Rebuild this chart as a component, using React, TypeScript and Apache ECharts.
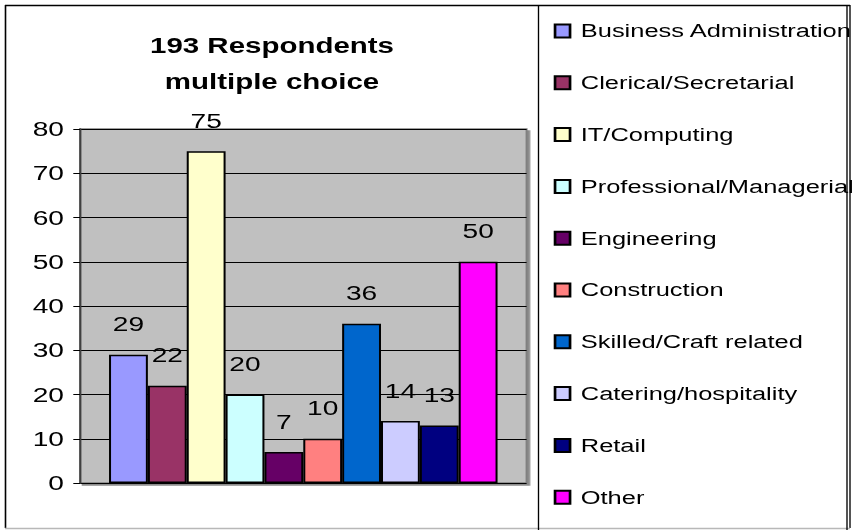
import React, { useEffect, useRef } from "react";
import * as echarts from "echarts";

const seriesNames = [
  "Business Administration",
  "Clerical/Secretarial",
  "IT/Computing",
  "Professional/Managerial",
  "Engineering",
  "Construction",
  "Skilled/Craft related",
  "Catering/hospitality",
  "Retail",
  "Other",
];
const seriesValues = [29, 22, 75, 20, 7, 10, 36, 14, 13, 50];
const seriesColors = [
  "#9999FF",
  "#993366",
  "#FFFFCC",
  "#CCFFFF",
  "#660066",
  "#FF8080",
  "#0066CC",
  "#CCCCFF",
  "#000080",
  "#FF00FF",
];
const categories = [""];
const titleLines = ["193 Respondents", "multiple choice"];
const yMin = 0;
const yMax = 80;
const yInterval = 10;

const K = 1.34; // horizontal stretch of the reference
const W = 853 / K;
const H = 530;
const sx = (x: number) => x / K;

export default function App() {
  const ref = useRef<HTMLDivElement>(null);
  useEffect(() => {
    if (!ref.current) return;
    const chart = echarts.init(ref.current, null, { renderer: "svg" });
    const font = "Liberation Sans, Arial, sans-serif";
    chart.setOption({
      animation: false,
      backgroundColor: "#ffffff",
      textStyle: { fontFamily: font },
      grid: {
        left: sx(80),
        right: W - sx(526),
        top: 129,
        bottom: H - 483,
        show: true,
        backgroundColor: "#C0C0C0",
        borderColor: "#808080",
        borderWidth: 1.5,
        shadowColor: "#8c8c8c",
        shadowOffsetX: 2,
        shadowOffsetY: 2,
        shadowBlur: 0,
      },
      xAxis: {
        type: "category",
        data: categories,
        axisLine: { show: false },
        axisTick: { show: false },
        axisLabel: { show: false },
      },
      yAxis: {
        type: "value",
        min: yMin,
        max: yMax,
        interval: yInterval,
        axisLine: { show: true, lineStyle: { color: "#404040", width: 1.5 } },
        axisTick: {
          show: true,
          length: 5,
          lineStyle: { color: "#000", width: 1 },
        },
        axisLabel: {
          color: "#000",
          fontSize: 21,
          fontFamily: font,
          margin: 12,
        },
        splitLine: { show: true, lineStyle: { color: "#000", width: 1 } },
      },
      legend: {
        orient: "vertical",
        left: sx(547),
        top: 15,
        itemWidth: sx(15),
        itemHeight: 13,
        itemGap: 29.8,
        icon: "rect",
        data: seriesNames,
        textStyle: {
          fontSize: 19,
          lineHeight: 22,
          color: "#000",
          fontFamily: font,
          padding: [0, 0, 0, 3],
        },
      },
      graphic: [
        {
          type: "text",
          x: sx(272),
          y: 27,
          style: {
            text: titleLines.join("\n"),
            textAlign: "center",
            font: `bold 22px ${font}`,
            lineHeight: 36,
            fill: "#000",
          },
        },
        {
          type: "line",
          shape: { x1: sx(5), y1: 5.5, x2: sx(850), y2: 5.5 },
          style: { stroke: "#000", lineWidth: 1.5 },
        },
        {
          type: "line",
          shape: { x1: sx(5.5), y1: 5, x2: sx(5.5), y2: 528 },
          style: { stroke: "#000", lineWidth: 1.2 },
        },
        {
          type: "line",
          shape: { x1: sx(850), y1: 5, x2: sx(850), y2: 528 },
          style: { stroke: "#000", lineWidth: 1 },
        },
        {
          type: "line",
          shape: { x1: sx(5), y1: 528.5, x2: sx(850), y2: 528.5 },
          style: { stroke: "#b8b8b8", lineWidth: 1.5 },
        },
        {
          type: "line",
          shape: { x1: sx(538.5), y1: 5, x2: sx(538.5), y2: 530 },
          style: { stroke: "#000", lineWidth: 1 },
        },
        {
          type: "line",
          shape: { x1: sx(847), y1: 5, x2: sx(847), y2: 530 },
          style: { stroke: "#000", lineWidth: 1 },
        },
      ],
      series: seriesNames.map((name, i) => ({
        name,
        type: "bar",
        data: [seriesValues[i]],
        barGap: "0%",
        barCategoryGap: "13%",
        itemStyle: {
          color: seriesColors[i],
          borderColor: "#000",
          borderWidth: 1.5,
        },
        label: {
          show: true,
          position: "top",
          distance: 20,
          color: "#000",
          fontSize: 21,
          fontFamily: font,
        },
      })),
    });
    return () => chart.dispose();
  }, []);
  return (
    <div
      ref={ref}
      style={{
        position: "fixed",
        left: 0,
        top: 0,
        width: W,
        height: H,
        transform: `scaleX(${K})`,
        transformOrigin: "0 0",
      }}
    />
  );
}
